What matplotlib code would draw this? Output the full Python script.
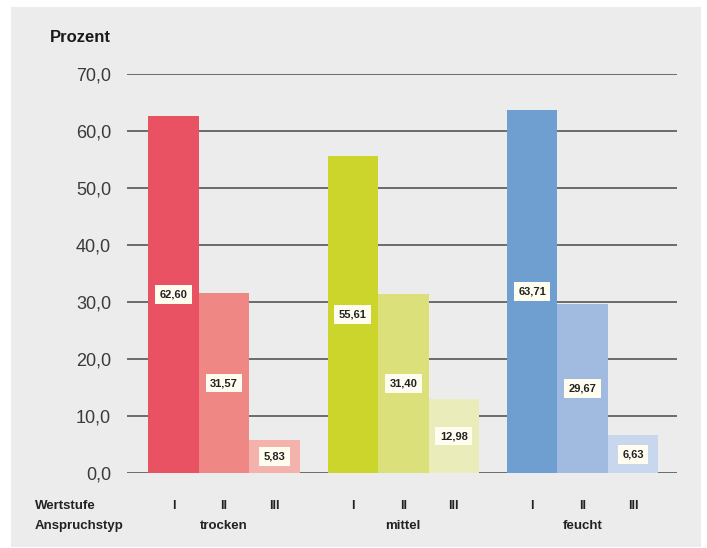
import matplotlib
matplotlib.use("Agg")
import matplotlib.pyplot as plt
from matplotlib.patches import Rectangle
from matplotlib.transforms import blended_transform_factory

plt.rcParams['font.family'] = ['Liberation Sans', 'DejaVu Sans']

# Anteile je Anspruchstyp und Wertstufe (Prozent)
typen = ['trocken', 'mittel', 'feucht']
stufen = ['I', 'II', 'III']
trocken = [62.60, 31.57, 5.83]
mittel = [55.61, 31.40, 12.98]
feucht = [63.71, 29.67, 6.63]
werte = [trocken, mittel, feucht]
y_ticks = [0, 10, 20, 30, 40, 50, 60, 70]

farben = [
    ['#E85263', '#EF8885', '#F4B2AD'],
    ['#CBD52B', '#DCE07A', '#EAEDB9'],
    ['#6E9FD0', '#A0BAE0', '#C9D7EE'],
]
schmal = ['Liberation Sans Narrow', 'Liberation Sans']

fig = plt.figure(figsize=(7.07, 5.48), dpi=100)
fig.patches.append(Rectangle((11 / 707, 1 / 548), 690 / 707, 540 / 548,
                             transform=fig.transFigure, facecolor='#ECECEC',
                             edgecolor='none', zorder=-10))

ax = fig.add_axes([127 / 707, 75 / 548, 550 / 707, 399 / 548])
ax.set_facecolor('none')
ax.set_xlim(-0.92, 9.97)
ax.set_ylim(0, 70)
unten = blended_transform_factory(ax.transData, fig.transFigure)

abstand = 3.55
for i, typ in enumerate(typen):
    for j, stufe in enumerate(stufen):
        x = i * abstand + j
        v = werte[i][j]
        ax.bar(x, v, width=1.0, color=farben[i][j], zorder=2)
        ax.text(x, v / 2, f'{v:.2f}'.replace('.', ','), ha='center', va='center',
                fontsize=8, fontweight='bold', color='#222222', zorder=3,
                bbox=dict(boxstyle='square,pad=0.4', facecolor='#FFFDF0',
                          edgecolor='none'))
        ax.text(x, 1 - 506 / 548, stufe, transform=unten, clip_on=False,
                ha='center', va='center', fontsize=9, fontweight='bold',
                color='#222222', family=schmal)
    ax.text(i * abstand + 1, 1 - 526 / 548, typ, transform=unten, clip_on=False,
            ha='center', va='center', fontsize=9.5, fontweight='bold',
            color='#222222', family=schmal)

for t in y_ticks:
    ax.axhline(t, color='#555555', linewidth=1.2, zorder=1)

ax.set_yticks(y_ticks)
ax.set_yticklabels([f'{t:.1f}'.replace('.', ',') for t in y_ticks],
                   fontsize=13, color='#3A3A3A')
ax.tick_params(axis='y', length=0, pad=11.5)
ax.set_xticks([])
for s in ax.spines.values():
    s.set_visible(False)

fig.text(111 / 707, 1 - 37 / 548, 'Prozent', ha='right', va='center',
         fontsize=12, fontweight='bold', color='#1A1A1A')
fig.text(35 / 707, 1 - 506 / 548, 'Wertstufe', ha='left', va='center',
         fontsize=9.5, fontweight='bold', color='#222222', family=schmal)
fig.text(35 / 707, 1 - 526 / 548, 'Anspruchstyp', ha='left', va='center',
         fontsize=9.5, fontweight='bold', color='#222222', family=schmal)

fig.savefig('out.png', dpi=100)
